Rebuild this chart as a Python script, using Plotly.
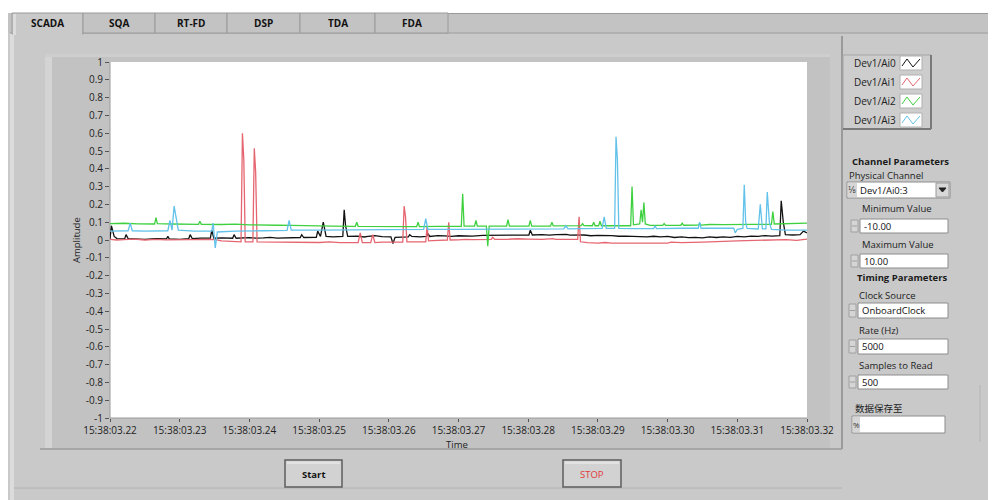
import plotly.graph_objects as go

# ---------------- data (time in ms after 15:38:03.220, amplitude) ----------------
AI0 = [(0, 0.005), (0.2, 0.08), (0.6, 0.02), (1, 0.008), (2.1, 0.006), (2.3, 0.03), (2.6, 0.008),
       (4, 0.006), (5, 0.004), (6.5, 0.007), (8.1, 0.006), (8.3, 0.02), (8.5, 0.006), (10, 0.004),
       (11.3, 0.008), (11.5, 0.03), (11.8, 0.008), (13, 0.01), (14.4, 0.01), (14.6, 0.055),
       (14.9, 0.01), (16, 0.012), (17.6, 0.01), (17.8, 0.03), (18.1, 0.01), (20, 0.013),
       (21, 0.01), (22, 0.012), (23, 0.015), (24, 0.011), (26, 0.012), (27.3, 0.014), (27.5, 0.03),
       (27.8, 0.014), (29.6, 0.015), (29.8, 0.05), (30.2, 0.02), (30.6, 0.1), (31.0, 0.02),
       (32, 0.018), (33.4, 0.02), (33.6, 0.17), (33.8, 0.08), (34.1, 0.02), (35.5, 0.022),
       (36.5, 0.017), (37, 0.02), (38, 0.024), (39, 0.019), (40.3, 0.018), (40.6, -0.02),
       (40.9, 0.015), (42.8, 0.018), (43.0, 0.03), (43.3, 0.02), (44.5, 0.017), (45.4, 0.02),
       (45.6, 0.035), (45.9, 0.02), (47, 0.025), (48, 0.023), (49, 0.02), (50, 0.024),
       (52, 0.022), (53.5, 0.026), (55, 0.026), (57, 0.025), (58, 0.028), (60.1, 0.028),
       (60.3, 0.055), (60.6, 0.028), (62, 0.03), (63, 0.027), (64, 0.03), (65.5, 0.032),
       (66, 0.027), (68, 0.028), (69, 0.024), (70, 0.026), (72, 0.025), (73, 0.021), (74, 0.022),
       (76, 0.02), (77, 0.017), (78, 0.021), (79, 0.018), (80, 0.02), (81, 0.014), (82, 0.017),
       (83, 0.013), (84, 0.015), (85, 0.012), (86, 0.018), (87, 0.014), (88, 0.017), (89, 0.015),
       (90, 0.02), (91, 0.018), (92, 0.022), (93, 0.02), (94, 0.025), (95, 0.022), (96.1, 0.025),
       (96.3, 0.22), (96.6, 0.1), (96.9, 0.03), (98, 0.028), (99.0, 0.03), (99.5, 0.05),
       (100, 0.04)]

AI1 = [(0, 0.003), (1, 0.0), (2, 0.002), (3.5, 0.005), (5, 0.0), (6.5, 0.003), (8, 0.001),
       (10, 0.002), (12, 0.0), (14, 0.0), (15, 0.003), (16, -0.005), (17.5, -0.008),
       (18.8, -0.01), (19.0, 0.6), (19.2, 0.45), (19.4, -0.01), (20.5, -0.01), (20.7, 0.515),
       (20.9, 0.38), (21.1, -0.01), (23, -0.011), (24, -0.008), (25, -0.012), (27, -0.01),
       (28, -0.013), (30, -0.014), (31.5, -0.011), (33, -0.015), (35.6, -0.015), (35.9, 0.04),
       (36.2, -0.015), (37.4, -0.015), (37.7, 0.03), (38.0, -0.015), (39, -0.012), (40, -0.013),
       (42.0, -0.012), (42.2, 0.19), (42.4, 0.13), (42.6, -0.01), (44, -0.01), (45.3, -0.01),
       (45.5, 0.08), (45.7, -0.005), (47, -0.002), (48.4, 0.0), (48.6, 0.1), (48.8, 0.0),
       (50, 0.001), (51, 0.004), (52, 0.002), (54.7, 0.003), (54.9, 0.015), (55.2, 0.003),
       (57, 0.004), (58.5, 0.007), (60, 0.005), (62, 0.004), (63.5, 0.008), (64, 0.004),
       (67.1, 0.004), (67.3, 0.13), (67.5, -0.01), (68.5, -0.015), (70, -0.017), (71, -0.014),
       (72, -0.018), (75, -0.019), (76, -0.016), (78, -0.018), (80, -0.017), (80.5, -0.012),
       (82, -0.015), (85, -0.012), (86.5, -0.008), (88, -0.008), (90, -0.005), (92, -0.003),
       (95, 0.0), (97, 0.002), (98.5, -0.002), (100, 0.005)]

AI2 = [(0, 0.092), (2, 0.094), (4, 0.091), (6.4, 0.09), (6.6, 0.125), (6.8, 0.092), (9, 0.09),
       (11, 0.088), (12.7, 0.088), (12.9, 0.105), (13.1, 0.088), (16, 0.087), (18, 0.089),
       (20, 0.085), (22, 0.086), (24, 0.083), (26, 0.082), (28, 0.08), (30, 0.081), (32, 0.078),
       (35.2, 0.077), (35.4, 0.1), (35.6, 0.077), (38, 0.076), (40, 0.078), (42, 0.075),
       (44.0, 0.075), (44.2, 0.1), (44.4, 0.075), (47, 0.076), (50.4, 0.076), (50.6, 0.26),
       (50.8, 0.078), (52.3, 0.078), (52.5, 0.11), (52.7, 0.078), (54.0, 0.078), (54.2, -0.035),
       (54.4, 0.078), (56.9, 0.078), (57.1, 0.115), (57.3, 0.078), (60.1, 0.078), (60.3, 0.11),
       (60.5, 0.078), (63.2, 0.078), (63.4, 0.1), (63.6, 0.079), (66, 0.08), (67.6, 0.081),
       (67.8, 0.092), (68.0, 0.081), (69.2, 0.08), (69.4, 0.1), (69.6, 0.08), (70.1, 0.08),
       (70.3, 0.105), (70.5, 0.08), (72, 0.08), (74.7, 0.08), (74.9, 0.3), (75.1, 0.085),
       (76.0, 0.09), (76.2, 0.17), (76.4, 0.1), (76.6, 0.21), (76.8, 0.09), (77.5, 0.082),
       (79.3, 0.082), (79.5, 0.092), (79.7, 0.082), (81.9, 0.083), (82.1, 0.095), (82.3, 0.083),
       (84.4, 0.084), (84.6, 0.092), (84.8, 0.084), (86, 0.087), (88, 0.086), (90, 0.089),
       (92, 0.088), (94.9, 0.088), (95.1, 0.16), (95.3, 0.09), (97, 0.092), (98.5, 0.096),
       (100, 0.095)]

AI3 = [(0, 0.05), (2.6, 0.052), (2.9, 0.095), (3.2, 0.052), (5, 0.05), (8.3, 0.052),
       (8.6, 0.11), (8.9, 0.055), (9.2, 0.19), (9.5, 0.12), (9.8, 0.055), (12, 0.05),
       (14.6, 0.05), (14.8, 0.095), (15.1, -0.045), (15.4, 0.045), (18, 0.05), (22, 0.052),
       (25.4, 0.054), (25.7, 0.11), (26, 0.055), (30, 0.056), (35, 0.058), (40, 0.058),
       (45.0, 0.06), (45.3, 0.12), (45.6, 0.06), (50, 0.06), (55, 0.062), (60, 0.062),
       (65.1, 0.063), (65.4, 0.08), (65.7, 0.063), (68, 0.064), (70.6, 0.065), (70.9, 0.13),
       (71.2, 0.065), (72.4, 0.065), (72.6, 0.58), (72.8, 0.45), (73.0, 0.065), (75, 0.064),
       (78.0, 0.064), (78.2, 0.08), (78.4, 0.064), (82, 0.066), (84.4, 0.066), (84.6, 0.1),
       (84.8, 0.066), (88, 0.066), (89.5, 0.066), (89.7, 0.04), (90.0, 0.06), (90.8, 0.065),
       (91.0, 0.31), (91.2, 0.1), (91.4, 0.065), (93.0, 0.062), (93.3, 0.2), (93.6, 0.062),
       (94.1, 0.062), (94.3, 0.27), (94.6, 0.1), (94.9, 0.06), (97, 0.056), (100, 0.055)]

SERIES_NAMES = ["Dev1/Ai0", "Dev1/Ai1", "Dev1/Ai2", "Dev1/Ai3"]
SERIES_COLORS = ["#111111", "#e56670", "#3fd040", "#62c2ea"]

X_TICK_VALS = [0, 10, 20, 30, 40, 50, 60, 70, 80, 90, 100]
X_TICK_TEXT = ["15:38:03.22", "15:38:03.23", "15:38:03.24", "15:38:03.25", "15:38:03.26",
               "15:38:03.27", "15:38:03.28", "15:38:03.29", "15:38:03.30", "15:38:03.31",
               "15:38:03.32"]
Y_TICK_VALS = [1, 0.9, 0.8, 0.7, 0.6, 0.5, 0.4, 0.3, 0.2, 0.1, 0, -0.1, -0.2, -0.3, -0.4,
               -0.5, -0.6, -0.7, -0.8, -0.9, -1]
Y_TICK_TEXT = ["1", "0.9", "0.8", "0.7", "0.6", "0.5", "0.4", "0.3", "0.2", "0.1", "0",
               "-0.1", "-0.2", "-0.3", "-0.4", "-0.5", "-0.6", "-0.7", "-0.8", "-0.9", "-1"]

TABS = ["SCADA", "SQA", "RT-FD", "DSP", "TDA", "FDA"]
TAB_EDGES = [12, 83, 155, 227, 300, 375, 448]

# ---------------- geometry helpers ----------------
# the page body has an 8px margin, so the figure is drawn 8px smaller and coordinates
# below are given in window pixels
OFF = 8
W, H = 996, 500
FW, FH = W - OFF, H - OFF
PL, PR, PT, PB = 110, 807, 62, 418
FONT = "Open Sans"


def fx(x):
    return (x - PL) / (PR - PL)


def fy(y):
    return (PB - y) / (PB - PT)


shapes = []
annotations = []


def rect(x0, y0, x1, y1, fill, line=None, lw=1):
    shapes.append(dict(type="rect", xref="paper", yref="paper", layer="below",
                       x0=fx(x0), x1=fx(x1), y0=fy(y1), y1=fy(y0), fillcolor=fill,
                       line=dict(color=line if line else fill, width=lw if line else 0)))


def hline(x0, x1, y, color, lw=1):
    shapes.append(dict(type="line", xref="paper", yref="paper", layer="below",
                       x0=fx(x0), x1=fx(x1), y0=fy(y), y1=fy(y), line=dict(color=color, width=lw)))


def vline(x, y0, y1, color, lw=1):
    shapes.append(dict(type="line", xref="paper", yref="paper", layer="below",
                       x0=fx(x), x1=fx(x), y0=fy(y0), y1=fy(y1), line=dict(color=color, width=lw)))


def path(pts, color, lw=1, fill=None):
    d = "M " + " L ".join(f"{fx(a):.5f},{fy(b):.5f}" for a, b in pts)
    if fill:
        d += " Z"
    shapes.append(dict(type="path", xref="paper", yref="paper", layer="above", path=d,
                       line=dict(color=color, width=lw), fillcolor=fill if fill else "rgba(0,0,0,0)"))


def text(x, y, s, size=10, color="#1e1e1e", anchor="left", bold=False, angle=0, family=FONT):
    annotations.append(dict(x=fx(x), y=fy(y), xref="paper", yref="paper",
                            text=f"<b>{s}</b>" if bold else s, showarrow=False,
                            xanchor=anchor, yanchor="middle", textangle=angle,
                            font=dict(family=family, size=size, color=color)))


PAGE = "#c9c9c9"
TAB = "#c3c3c3"
FRAME = "#c2c2c2"

# top white strip
rect(0, 0, W, 13, "#ffffff")
# tab strip
rect(0, 13, W, 33, TAB)
hline(TAB_EDGES[-1], W, 13.5, "#9a9a9a")
# page
rect(10, 33, W, H, PAGE)
rect(10, 33, 14, H, "#dcdcdc")
hline(10, W, 33, "#9c9c9c")
for i, name in enumerate(TABS):
    x0, x1 = TAB_EDGES[i], TAB_EDGES[i + 1]
    if i == 0:
        rect(x0, 13, x1, 34, PAGE, "#9a9a9a")
        rect(x0 + 1, 30, x1 - 1, 35, PAGE)
        rect(x0 + 1, 14, x0 + 4, 35, "#dcdcdc")
    else:
        rect(x0, 13, x1, 33, TAB, "#9a9a9a")
    text((x0 + x1) / 2, 23, name, size=10, color="#111111", anchor="center", bold=True)

# graph frame
rect(45, 54, 830, 448, FRAME)
rect(45, 54, 52, 448, "#d4d4d4")
rect(45, 54, 830, 57, "#cecece")
# plot area
rect(PL, PT, PR, PB, "#ffffff")
vline(PL, PT, PB, "#9a9a9a", 1)
hline(PL, PR, PB, "#9a9a9a", 1)

# separator lines
vline(842, 36, 449, "#8a8a8a", 1.5)
hline(40, 842, 449, "#9a9a9a", 1.5)
hline(14, 842, 488, "#b2b2b2", 1)
vline(980, 385, 442, "#b5b5b5", 1)

# legend box
rect(843, 55, 931, 129, "#cdcdcd", "#a5a5a5")
vline(931, 55, 129, "#7a7a7a", 2)
hline(843, 931, 129, "#7a7a7a", 2)
for i, (nm, col) in enumerate(zip(SERIES_NAMES, SERIES_COLORS)):
    yc = 63 + i * 19
    text(898, yc, nm, size=10, color="#222222", anchor="right")
    rect(900, yc - 7, 922, yc + 7, "#ffffff", "#b0b0b0")
    path([(902, yc + 3), (907, yc - 4), (913, yc + 4), (920, yc - 4)], col, 1)

# right panel controls
text(850, 161, "Channel Parameters", size=9.5, bold=True, color="#1a1a1a")
text(847, 175, "Physical Channel", size=9.5, color="#222222")
rect(847, 182, 950, 198, "#ffffff", "#8c8c8c")
rect(848, 183, 857, 197, "#d6d6d6")
text(852, 190, "⅛", size=8, color="#333333", anchor="center", family="DejaVu Sans")
text(858, 190, "Dev1/Ai0:3", size=9.5, color="#111111")
rect(936, 183, 949, 197, "#d8d8d8", "#9a9a9a")
path([(939, 188), (946, 188), (942.5, 192)], "#222222", 1, fill="#222222")


def spin_box(y0, y1, s, x0=860, x1=948):
    rect(x0 - 9, y0 + 1, x0 - 2, y1 - 1, "#d5d5d5", "#a0a0a0")
    hline(x0 - 8, x0 - 3, (y0 + y1) / 2, "#a0a0a0", 1)
    rect(x0, y0, x1, y1, "#ffffff", "#8c8c8c")
    text(x0 + 2, (y0 + y1) / 2, s, size=9.5, color="#111111")


text(860, 209, "Minimum Value", size=9.5, color="#222222")
spin_box(219, 233, "-10.00")
text(860, 244, "Maximum Value", size=9.5, color="#222222")
spin_box(254, 268, "10.00")
text(855, 277, "Timing Parameters", size=9.5, bold=True, color="#1a1a1a")
text(857, 295, "Clock Source", size=9.5, color="#222222")
spin_box(303, 318, "OnboardClock", x0=858)
text(857, 330, "Rate (Hz)", size=9.5, color="#222222")
spin_box(339, 354, "5000", x0=858)
text(857, 365, "Samples to Read", size=9.5, color="#222222")
spin_box(375, 389, "500", x0=858)
text(853, 408, "数据保存至", size=9.5, color="#222222", family="Noto Sans CJK SC")
rect(852, 416, 945, 433, "#ffffff", "#8c8c8c")
rect(853, 417, 860, 432, "#d6d6d6")
text(856.5, 424.5, "%", size=8, color="#333333", anchor="center")

# buttons
for (x0, x1, label, col, bold) in [(285, 342, "Start", "#111111", True),
                                   (563, 621, "STOP", "#e23a3a", False)]:
    rect(x0, 460, x1, 487, "#d2d2d2", "#5e5e5e", 1.5)
    rect(x0 + 2, 461.5, x1 - 2, 464, "#e2e2e2")
    text((x0 + x1) / 2, 474, label, size=9.5, color=col, anchor="center", bold=bold)

# axis titles
text(76, 240, "Amplitude", size=9.5, color="#222222", anchor="center", angle=-90)
text(457, 444, "Time", size=9.5, color="#222222", anchor="center")

# ---------------- traces ----------------
fig = go.Figure()
for nm, col, pts in zip(SERIES_NAMES, SERIES_COLORS, [AI0, AI1, AI2, AI3]):
    fig.add_trace(go.Scatter(x=[p[0] for p in pts], y=[p[1] for p in pts], mode="lines",
                             name=nm, line=dict(color=col, width=1.3), showlegend=False))

fig.update_layout(
    width=FW, height=FH,
    margin=dict(l=PL - OFF, r=FW - (PR - OFF), t=PT - OFF, b=FH - (PB - OFF), pad=0),
    paper_bgcolor=PAGE, plot_bgcolor="rgba(0,0,0,0)",
    shapes=shapes, annotations=annotations,
    font=dict(family=FONT, size=10, color="#222222"),
    xaxis=dict(range=[0, 100], tickvals=X_TICK_VALS, ticktext=X_TICK_TEXT, showgrid=False,
               zeroline=False, ticks="outside", ticklen=3, tickcolor="#555555",
               tickfont=dict(family=FONT, size=10, color="#222222"), showline=False),
    yaxis=dict(range=[-1, 1], tickvals=Y_TICK_VALS, ticktext=Y_TICK_TEXT, showgrid=False,
               zeroline=False, ticks="outside", ticklen=4, tickcolor="#555555",
               tickfont=dict(family=FONT, size=10, color="#222222"), showline=False),
)

fig.write_html("out.html")
